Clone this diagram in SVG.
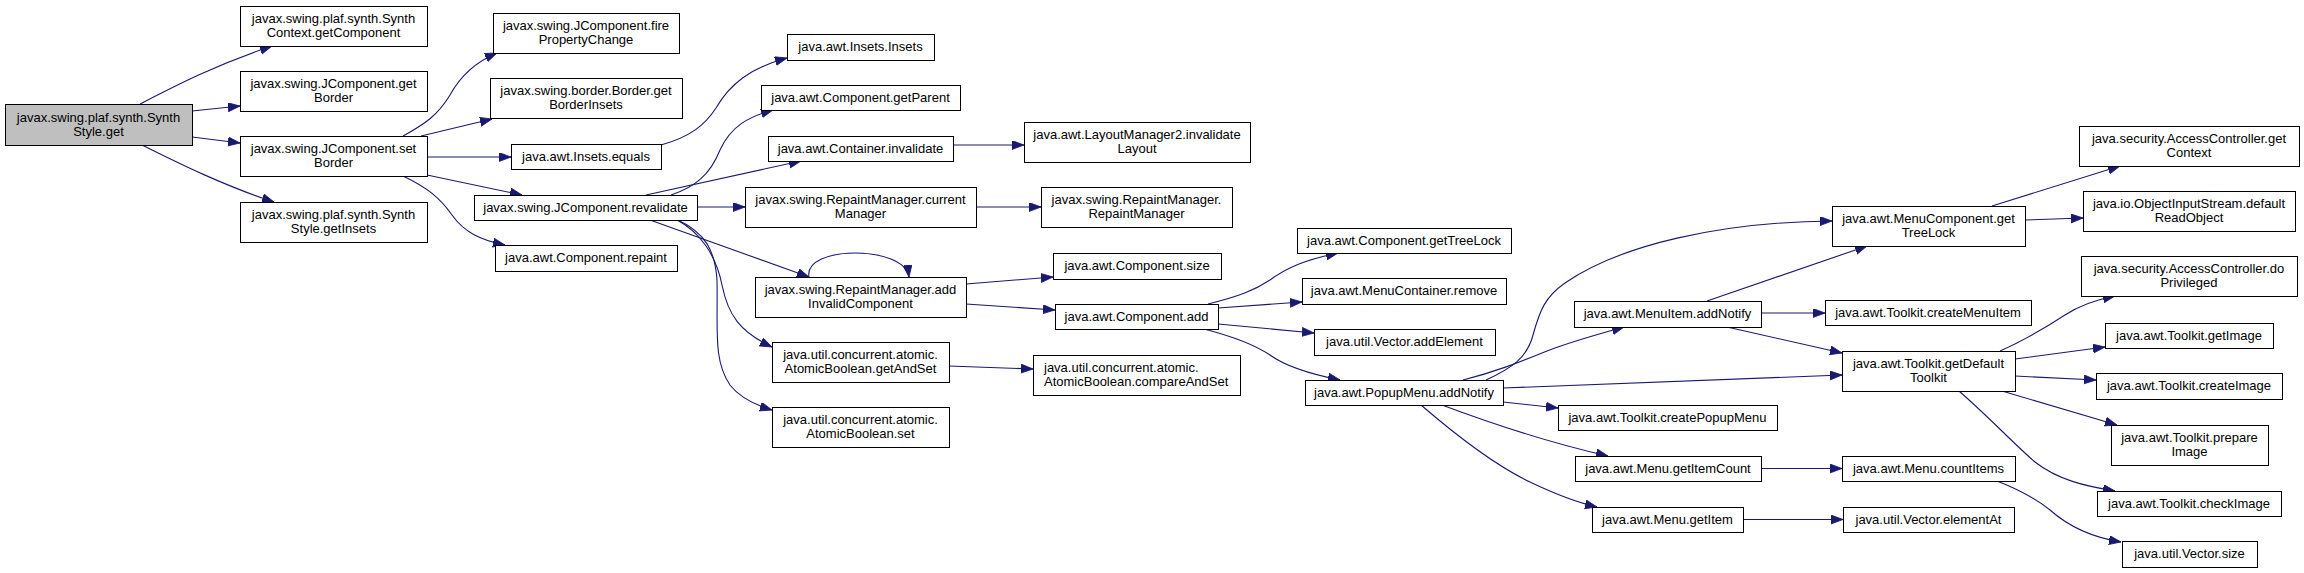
<svg xmlns="http://www.w3.org/2000/svg" width="2304" height="573" viewBox="0 0 2304 573">
<style>
.node rect{fill:#ffffff;stroke:#000000;stroke-width:1}
#n0 rect{fill:#bfbfbf}
.node text{font-family:"Liberation Sans",Arial,sans-serif;font-size:13px;fill:#000000;text-anchor:middle}
#n21 text{text-anchor:start}
.edges path{fill:none;stroke:#191970;stroke-width:1.1;marker-end:url(#ah)}
</style>
<defs>
<marker id="ah" markerUnits="userSpaceOnUse" markerWidth="13" markerHeight="10" refX="12" refY="4.5" orient="auto">
<path d="M0,0 L12,4.5 L0,9 Z" fill="#191970" stroke="#191970" stroke-width="0.8"/>
</marker>
</defs>
<rect x="0" y="0" width="2304" height="573" fill="#ffffff"/>
<g class="edges">
<path d="M140,104 C175,86 215,65 272,46"/>
<path d="M192,111 L240,106"/>
<path d="M192,137 L240,143"/>
<path d="M142,145 C180,164 225,186 274,202"/>
<path d="M403,136 C425,124 438,115 450,95 C462,73 478,61 497,53"/>
<path d="M421,136 L492,119"/>
<path d="M427,157 L511,157"/>
<path d="M427,175 L522,195"/>
<path d="M403,176 C428,188 440,198 452,215 C464,232 480,240 505,245"/>
<path d="M661,145 C690,137 705,125 716,108 C730,84 750,68 787,58"/>
<path d="M671,195 C695,187 710,175 720,150 C731,126 748,117 773,110"/>
<path d="M646,195 L801,161"/>
<path d="M697,207 L745,207"/>
<path d="M650,220 L809,277"/>
<path d="M677,220 C700,232 716,255 722,285 C728,315 740,332 772,347"/>
<path d="M678,220 C705,233 715,250 717,280 C718,330 713,360 730,385 C740,398 755,405 772,410"/>
<path d="M809,277 C803,245 905,245 909,277"/>
<path d="M966,284 L1053,277"/>
<path d="M966,304 L1055,310"/>
<path d="M976,207 L1041,207"/>
<path d="M953,145 L1024,145"/>
<path d="M949,366 L1033,369"/>
<path d="M1208,304 C1240,296 1255,290 1270,280 C1288,267 1305,260 1338,253"/>
<path d="M1218,308 L1302,302"/>
<path d="M1218,324 L1314,333"/>
<path d="M1204,329 C1235,337 1255,345 1270,355 C1285,366 1310,374 1340,380"/>
<path d="M1486,380 C1512,368 1527,358 1533,335 C1540,310 1545,297 1565,283 C1620,245 1720,222 1832,221"/>
<path d="M1463,380 C1495,372 1520,362 1547,351 C1570,342 1595,335 1624,327"/>
<path d="M1503,388 L1842,375"/>
<path d="M1503,402 L1558,408"/>
<path d="M1442,405 C1490,423 1555,444 1608,456"/>
<path d="M1421,405 C1450,430 1490,463 1530,482 C1555,494 1575,502 1597,507"/>
<path d="M1707,301 L1867,246"/>
<path d="M1761,313 L1825,313"/>
<path d="M1727,327 L1842,353"/>
<path d="M1992,206 L2120,166"/>
<path d="M2025,220 L2083,218"/>
<path d="M2000,351 C2025,340 2045,328 2065,315 C2080,305 2095,300 2115,296"/>
<path d="M2015,359 L2105,347"/>
<path d="M2015,376 L2096,380"/>
<path d="M2002,391 L2117,425"/>
<path d="M1959,391 C1990,418 2015,445 2035,462 C2058,480 2085,486 2115,491"/>
<path d="M1761,468.5 L1842,468.5"/>
<path d="M1743,519.5 L1843,519.5"/>
<path d="M1997,481 C2020,490 2035,498 2050,510 C2068,526 2090,537 2121,542"/>
</g>
<g id="n0" class="node"><rect x="5.5" y="104.5" width="187" height="41"/><text x="98.5" y="121.5">javax.swing.plaf.synth.Synth</text><text x="98.5" y="135.5">Style.get</text></g>
<g id="n1" class="node"><rect x="240.5" y="6.5" width="187" height="40"/><text x="333.5" y="23">javax.swing.plaf.synth.Synth</text><text x="333.5" y="37">Context.getComponent</text></g>
<g id="n2" class="node"><rect x="240.5" y="71.5" width="187" height="40"/><text x="333.5" y="88">javax.swing.JComponent.get</text><text x="333.5" y="102">Border</text></g>
<g id="n3" class="node"><rect x="240.5" y="136.5" width="187" height="40"/><text x="333.5" y="153">javax.swing.JComponent.set</text><text x="333.5" y="167">Border</text></g>
<g id="n4" class="node"><rect x="240.5" y="202.5" width="187" height="40"/><text x="333.5" y="219">javax.swing.plaf.synth.Synth</text><text x="333.5" y="233">Style.getInsets</text></g>
<g id="n5" class="node"><rect x="493.5" y="13.5" width="186" height="40"/><text x="586" y="30">javax.swing.JComponent.fire</text><text x="586" y="44">PropertyChange</text></g>
<g id="n6" class="node"><rect x="490.5" y="78.5" width="192" height="40"/><text x="586" y="95">javax.swing.border.Border.get</text><text x="586" y="109">BorderInsets</text></g>
<g id="n7" class="node"><rect x="511.5" y="144.5" width="150" height="25"/><text x="586" y="160.5">java.awt.Insets.equals</text></g>
<g id="n8" class="node"><rect x="474.5" y="195.5" width="223" height="25"/><text x="585.5" y="211.5">javax.swing.JComponent.revalidate</text></g>
<g id="n9" class="node"><rect x="495.5" y="245.5" width="182" height="26"/><text x="586" y="262">java.awt.Component.repaint</text></g>
<g id="n10" class="node"><rect x="787.5" y="34.5" width="147" height="26"/><text x="860.5" y="51">java.awt.Insets.Insets</text></g>
<g id="n11" class="node"><rect x="761.5" y="85.5" width="199" height="25"/><text x="860.5" y="101.5">java.awt.Component.getParent</text></g>
<g id="n12" class="node"><rect x="768.5" y="136.5" width="185" height="25"/><text x="860.5" y="152.5">java.awt.Container.invalidate</text></g>
<g id="n13" class="node"><rect x="745.5" y="187.5" width="231" height="40"/><text x="860.5" y="204">javax.swing.RepaintManager.current</text><text x="860.5" y="218">Manager</text></g>
<g id="n14" class="node"><rect x="755.5" y="277.5" width="211" height="40"/><text x="860.5" y="294">javax.swing.RepaintManager.add</text><text x="860.5" y="308">InvalidComponent</text></g>
<g id="n15" class="node"><rect x="772.5" y="342.5" width="177" height="40"/><text x="860.5" y="359">java.util.concurrent.atomic.</text><text x="860.5" y="373">AtomicBoolean.getAndSet</text></g>
<g id="n16" class="node"><rect x="772.5" y="407.5" width="177" height="40"/><text x="860.5" y="424">java.util.concurrent.atomic.</text><text x="860.5" y="438">AtomicBoolean.set</text></g>
<g id="n17" class="node"><rect x="1024.5" y="122.5" width="226" height="40"/><text x="1137" y="139">java.awt.LayoutManager2.invalidate</text><text x="1137" y="153">Layout</text></g>
<g id="n18" class="node"><rect x="1041.5" y="187.5" width="191" height="40"/><text x="1136.5" y="204">javax.swing.RepaintManager.</text><text x="1136.5" y="218">RepaintManager</text></g>
<g id="n19" class="node"><rect x="1053.5" y="253.5" width="168" height="26"/><text x="1137" y="270">java.awt.Component.size</text></g>
<g id="n20" class="node"><rect x="1055.5" y="304.5" width="163" height="25"/><text x="1136.5" y="320.5">java.awt.Component.add</text></g>
<g id="n21" class="node"><rect x="1033.5" y="355.5" width="207" height="40"/><text x="1044" y="372">java.util.concurrent.atomic.</text><text x="1044" y="386">AtomicBoolean.compareAndSet</text></g>
<g id="n22" class="node"><rect x="1297.5" y="228.5" width="214" height="25"/><text x="1404" y="244.5">java.awt.Component.getTreeLock</text></g>
<g id="n23" class="node"><rect x="1302.5" y="278.5" width="204" height="26"/><text x="1404" y="295">java.awt.MenuContainer.remove</text></g>
<g id="n24" class="node"><rect x="1314.5" y="329.5" width="181" height="26"/><text x="1404.5" y="346">java.util.Vector.addElement</text></g>
<g id="n25" class="node"><rect x="1305.5" y="380.5" width="198" height="25"/><text x="1404" y="396.5">java.awt.PopupMenu.addNotify</text></g>
<g id="n26" class="node"><rect x="1574.5" y="301.5" width="187" height="26"/><text x="1667.5" y="318">java.awt.MenuItem.addNotify</text></g>
<g id="n27" class="node"><rect x="1558.5" y="405.5" width="219" height="25"/><text x="1667.5" y="421.5">java.awt.Toolkit.createPopupMenu</text></g>
<g id="n28" class="node"><rect x="1575.5" y="456.5" width="186" height="25"/><text x="1668" y="472.5">java.awt.Menu.getItemCount</text></g>
<g id="n29" class="node"><rect x="1592.5" y="507.5" width="151" height="25"/><text x="1667.5" y="523.5">java.awt.Menu.getItem</text></g>
<g id="n30" class="node"><rect x="1832.5" y="206.5" width="193" height="40"/><text x="1928.5" y="223">java.awt.MenuComponent.get</text><text x="1928.5" y="237">TreeLock</text></g>
<g id="n31" class="node"><rect x="1825.5" y="300.5" width="206" height="25"/><text x="1928" y="316.5">java.awt.Toolkit.createMenuItem</text></g>
<g id="n32" class="node"><rect x="1842.5" y="351.5" width="173" height="40"/><text x="1928.5" y="368">java.awt.Toolkit.getDefault</text><text x="1928.5" y="382">Toolkit</text></g>
<g id="n33" class="node"><rect x="1842.5" y="456.5" width="173" height="25"/><text x="1928.5" y="472.5">java.awt.Menu.countItems</text></g>
<g id="n34" class="node"><rect x="1843.5" y="507.5" width="171" height="25"/><text x="1928.5" y="523.5">java.util.Vector.elementAt</text></g>
<g id="n35" class="node"><rect x="2079.5" y="126.5" width="220" height="40"/><text x="2189" y="143">java.security.AccessController.get</text><text x="2189" y="157">Context</text></g>
<g id="n36" class="node"><rect x="2083.5" y="191.5" width="212" height="40"/><text x="2189" y="208">java.io.ObjectInputStream.default</text><text x="2189" y="222">ReadObject</text></g>
<g id="n37" class="node"><rect x="2081.5" y="256.5" width="216" height="40"/><text x="2189" y="273">java.security.AccessController.do</text><text x="2189" y="287">Privileged</text></g>
<g id="n38" class="node"><rect x="2105.5" y="323.5" width="168" height="25"/><text x="2189" y="339.5">java.awt.Toolkit.getImage</text></g>
<g id="n39" class="node"><rect x="2096.5" y="373.5" width="186" height="26"/><text x="2189" y="390">java.awt.Toolkit.createImage</text></g>
<g id="n40" class="node"><rect x="2111.5" y="425.5" width="157" height="40"/><text x="2189.5" y="442">java.awt.Toolkit.prepare</text><text x="2189.5" y="456">Image</text></g>
<g id="n41" class="node"><rect x="2097.5" y="491.5" width="184" height="25"/><text x="2189" y="507.5">java.awt.Toolkit.checkImage</text></g>
<g id="n42" class="node"><rect x="2122.5" y="541.5" width="135" height="26"/><text x="2189.5" y="558">java.util.Vector.size</text></g>
</svg>
